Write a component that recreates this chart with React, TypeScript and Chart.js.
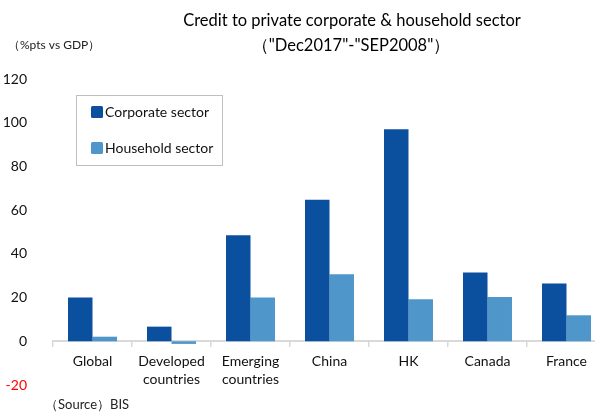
import React, { useEffect, useRef } from "react";
import { Chart, registerables } from "chart.js";

Chart.register(...registerables);

const categories: (string | string[])[] = [
  "Global",
  ["Developed", "countries"],
  ["Emerging", "countries"],
  "China",
  "HK",
  "Canada",
  "France",
];
const corporateSector = [20, 6.7, 48.5, 64.8, 97, 31.5, 26.4];
const householdSector = [2.1, -1.2, 20, 30.7, 19.2, 20.3, 11.9];
const seriesNames = ["Corporate sector", "Household sector"];
const seriesColors = ["#0b4f9f", "#4f97ca"];
const titleLines = ["Credit to private corporate & household sector", "（\"Dec2017\"-\"SEP2008\"）"];
const unitLabel = "（%pts vs GDP）";
const sourceLabel = "（Source）BIS";

const FONT = "Lato, 'Noto Sans', sans-serif";

const overlayPlugin = {
  id: "overlay",
  afterDraw(chart: any) {
    const ctx = chart.ctx as CanvasRenderingContext2D;
    ctx.save();
    ctx.fillStyle = "#000";
    ctx.textAlign = "center";
    ctx.textBaseline = "middle";
    ctx.font = `16.5px ${FONT}`;
    ctx.fillText(titleLines[0], 352, 21);
    ctx.fillText(titleLines[1], 351, 46);

    ctx.textAlign = "left";
    ctx.font = `12px ${FONT}`;
    ctx.fillStyle = "#222";
    ctx.fillText(unitLabel, 8, 45);
    ctx.font = `13px ${FONT}`;
    ctx.fillText(sourceLabel, 45, 405);

    // legend
    ctx.strokeStyle = "#bfbfbf";
    ctx.lineWidth = 1;
    ctx.strokeRect(76.5, 95.5, 146, 70);
    const ds = chart.data.datasets;
    const ys = [112, 148];
    ds.forEach((d: any, i: number) => {
      ctx.fillStyle = d.backgroundColor;
      ctx.beginPath();
      (ctx as any).roundRect(91, ys[i] - 6, 12, 12, 1.5);
      ctx.fill();
      ctx.fillStyle = "#111";
      ctx.font = `14px ${FONT}`;
      ctx.textAlign = "left";
      ctx.fillText(d.label, 105, ys[i] + 0.5);
    });
    ctx.restore();
  },
};

export default function App() {
  const ref = useRef<HTMLCanvasElement | null>(null);
  useEffect(() => {
    if (!ref.current) return;
    const chart = new Chart(ref.current, {
      type: "bar",
      data: {
        labels: categories as any,
        datasets: [
          {
            label: seriesNames[0],
            data: corporateSector,
            backgroundColor: seriesColors[0],
            borderWidth: 0,
          },
          {
            label: seriesNames[1],
            data: householdSector,
            backgroundColor: seriesColors[1],
            borderWidth: 0,
          },
        ],
      },
      options: {
        responsive: false,
        animation: false,
        layout: { padding: { top: 79, bottom: 30, left: 0, right: 4 } },
        datasets: { bar: { categoryPercentage: 0.62, barPercentage: 1 } },
        plugins: {
          legend: { display: false },
          title: { display: false },
          tooltip: { enabled: false },
        },
        scales: {
          x: {
            position: { y: 0 } as any,
            grid: {
              display: true,
              drawOnChartArea: false,
              drawTicks: true,
              tickLength: 5,
              color: "#d9d9d9",
              lineWidth: 1.5,
              offset: true,
            },
            border: { display: true, color: "#d9d9d9", width: 2 },
            ticks: {
              color: "#111",
              font: { family: FONT, size: 14, lineHeight: 1.3 },
              padding: 6,
              maxRotation: 0,
              autoSkip: false,
            },
          },
          y: {
            min: -20,
            max: 120,
            grid: { display: false },
            border: { display: false },
            ticks: {
              stepSize: 20,
              padding: 18,
              font: { family: FONT, size: 14 },
              color: (c: any) => (c.tick && c.tick.value < 0 ? "#ff0000" : "#111"),
            },
            afterFit: (s: any) => {
              s.width = 53;
            },
          },
        },
      },
      plugins: [overlayPlugin],
    });
    return () => chart.destroy();
  }, []);
  return (
    <div style={{ position: "fixed", left: 0, top: 0, width: 610, height: 415, background: "#fff" }}>
      <canvas ref={ref} width={610} height={415} />
    </div>
  );
}
